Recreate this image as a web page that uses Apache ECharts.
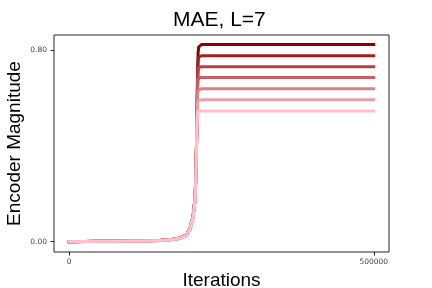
<!DOCTYPE html>
<html>
<head>
<meta charset="utf-8">
<script src="https://cdn.jsdelivr.net/npm/echarts@6/dist/echarts.min.js"></script>
<style>html,body{margin:0;padding:0;background:#fff}#c{width:432px;height:288px}</style>
</head>
<body>
<div id="c"></div>
<script>
// Iteration steps (x values)
const iterations = [0, 25000, 50000, 75000, 100000, 125000, 150000, 170000, 182000, 192000, 198000, 203000, 206500, 208000, 209500, 210500, 211500, 212500, 214000, 217000, 500000];
// Encoder magnitude for each of the 7 curves (dark red -> pink)
const mag0 = [0.000, 0.001, 0.0015, 0.002, 0.003, 0.004, 0.006, 0.010, 0.015, 0.027, 0.053, 0.100, 0.180, 0.290, 0.480, 0.670, 0.785, 0.812, 0.820, 0.823, 0.823];
const mag1 = [0.000, 0.001, 0.0015, 0.002, 0.003, 0.004, 0.006, 0.010, 0.015, 0.027, 0.052, 0.099, 0.178, 0.285, 0.475, 0.655, 0.752, 0.770, 0.775, 0.776, 0.776];
const mag2 = [0.000, 0.001, 0.0015, 0.002, 0.003, 0.0035, 0.0055, 0.0095, 0.0145, 0.026, 0.052, 0.098, 0.176, 0.282, 0.470, 0.640, 0.715, 0.727, 0.730, 0.730, 0.730];
const mag3 = [0.000, 0.001, 0.0015, 0.002, 0.0028, 0.0035, 0.0055, 0.0095, 0.0145, 0.026, 0.051, 0.097, 0.174, 0.278, 0.465, 0.620, 0.675, 0.683, 0.685, 0.685, 0.685];
const mag4 = [0.000, 0.001, 0.0015, 0.002, 0.0027, 0.0033, 0.0052, 0.009, 0.014, 0.025, 0.051, 0.096, 0.172, 0.275, 0.460, 0.600, 0.632, 0.637, 0.638, 0.638, 0.638];
const mag5 = [0.000, 0.001, 0.0015, 0.002, 0.0026, 0.0032, 0.005, 0.009, 0.014, 0.025, 0.050, 0.095, 0.171, 0.272, 0.455, 0.570, 0.588, 0.591, 0.592, 0.592, 0.592];
const mag6 = [0.000, 0.001, 0.0015, 0.002, 0.0025, 0.003, 0.005, 0.009, 0.014, 0.025, 0.050, 0.095, 0.170, 0.270, 0.450, 0.530, 0.543, 0.545, 0.545, 0.545, 0.545];
const magnitudes = [mag0, mag1, mag2, mag3, mag4, mag5, mag6];
const lineColors = ['#8b0000', '#9e2022', '#b24044', '#c56065', '#d88087', '#eca0a9', '#ffc0cb'];
const xTickValues = [0, 500000];
const yTickValues = [0, 0.8];
const titleText = 'MAE, L=7';
const xName = 'Iterations';
const yName = 'Encoder Magnitude';

const chart = echarts.init(document.getElementById('c'), null, {renderer: 'canvas'});
const series = magnitudes.map((m, i) => ({
  type: 'line',
  data: iterations.map((x, j) => [x, m[j]]),
  showSymbol: false,
  symbol: 'none',
  lineStyle: {color: lineColors[i], width: 3, cap: 'square', join: 'round'},
  itemStyle: {color: lineColors[i]},
  animation: false,
  silent: true
}));
const tickFont = {fontFamily: 'DejaVu Sans', fontSize: 7.5, color: '#444'};
chart.setOption({
  animation: false,
  backgroundColor: '#fff',
  title: {
    text: titleText,
    left: 173, top: 10, padding: 0,
    textStyle: {fontFamily: 'Liberation Sans', fontSize: 21, fontWeight: 'normal', color: '#000'}
  },
  grid: {left: 54, top: 35, width: 335, height: 217, show: true, borderColor: '#262626', borderWidth: 1, backgroundColor: 'transparent', containLabel: false, outerBoundsMode: 'none'},
  xAxis: {
    type: 'value', min: -25000, max: 525000,
    name: xName, nameLocation: 'middle', nameGap: 19, nameMoveOverlap: false,
    nameTextStyle: {fontFamily: 'Liberation Sans', fontSize: 19, color: '#000'},
    axisLine: {show: false, onZero: false},
    splitLine: {show: false},
    axisTick: {show: true, length: 3.5, lineStyle: {color: '#262626', width: 1}, customValues: xTickValues},
    axisLabel: Object.assign({margin: 6, customValues: xTickValues, formatter: v => String(v)}, tickFont)
  },
  yAxis: {
    type: 'value', min: -0.043, max: 0.8626,
    name: yName, nameLocation: 'middle', nameGap: 30, nameMoveOverlap: false,
    nameTextStyle: {fontFamily: 'Liberation Sans', fontSize: 19, color: '#000'},
    axisLine: {show: false, onZero: false},
    splitLine: {show: false},
    axisTick: {show: true, length: 3.5, lineStyle: {color: '#262626', width: 1}, customValues: yTickValues},
    axisLabel: Object.assign({margin: 7, customValues: yTickValues, formatter: v => v.toFixed(2)}, tickFont)
  },
  series: series
});
</script>
</body>
</html>
